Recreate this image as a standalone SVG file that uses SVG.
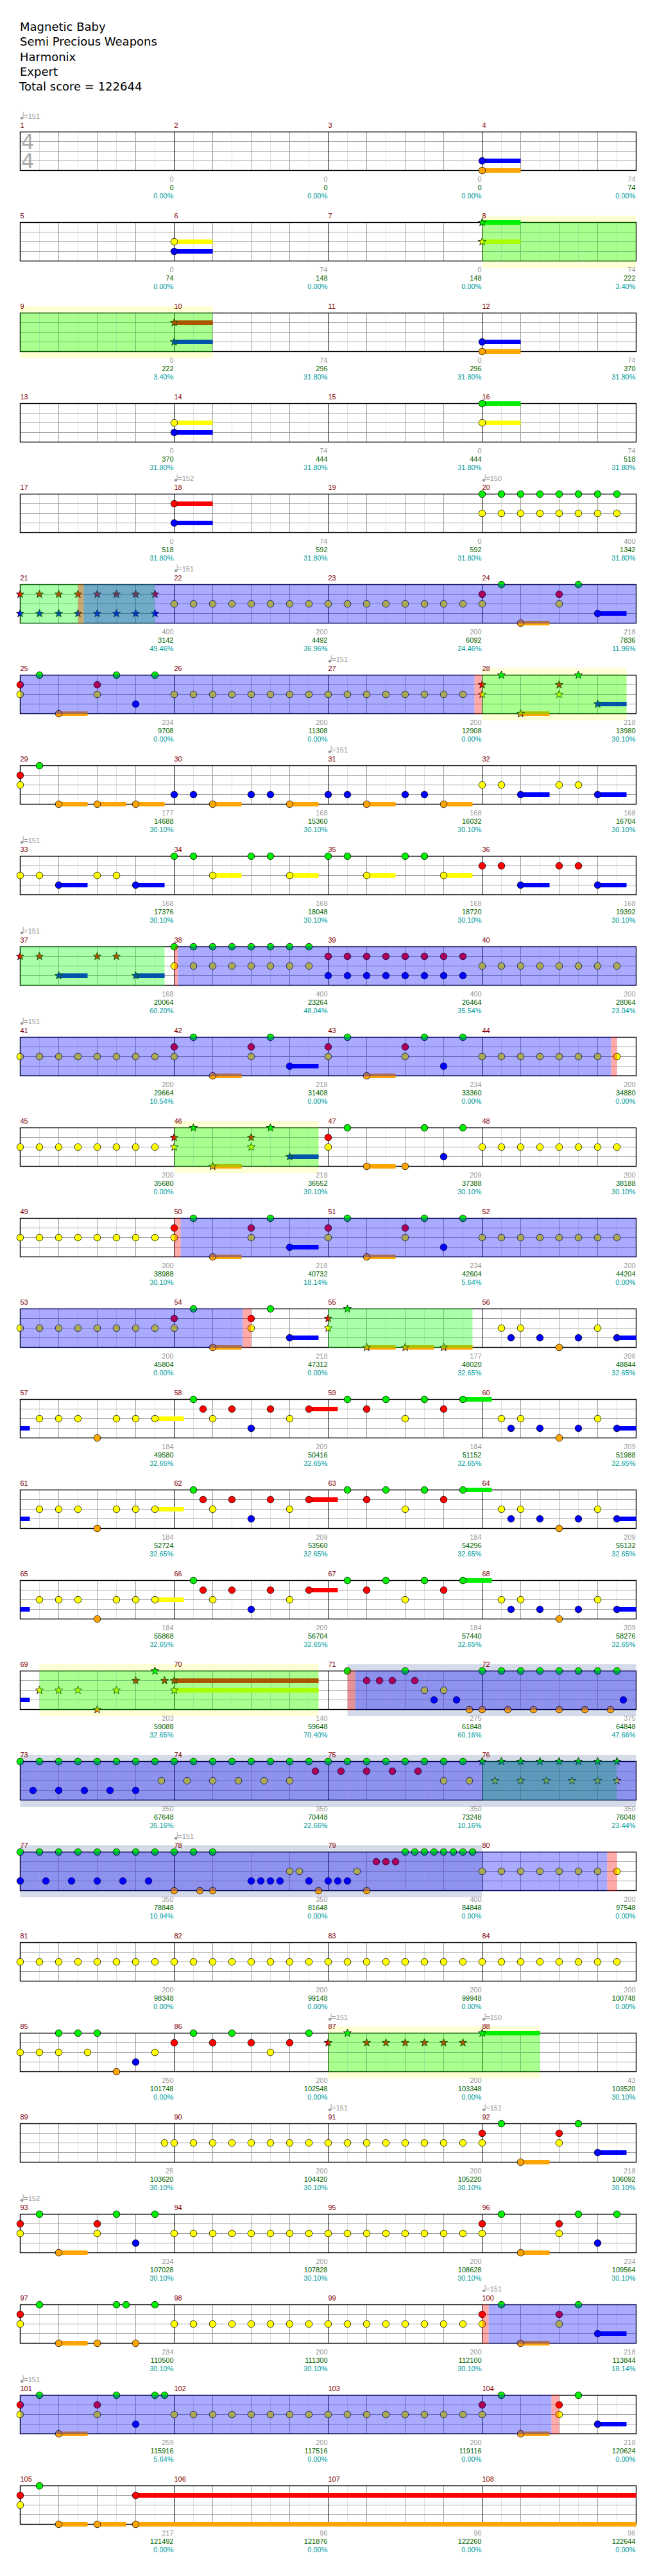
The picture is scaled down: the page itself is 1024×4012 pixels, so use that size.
<svg xmlns="http://www.w3.org/2000/svg" width="1024" height="4012" viewBox="0 0 1024 4012">
<style>
text{font-family:"Liberation Sans",Arial,sans-serif;font-size:11px}
.t{font-family:"DejaVu Sans",Verdana,sans-serif;font-size:18px;fill:#000}
.ts{font-family:"DejaVu Sans",Verdana,sans-serif;font-size:32px;fill:#aaa}
.mn{fill:#800000}
.s1{fill:#999;text-anchor:end}
.s2{fill:#006400;text-anchor:end}
.s3{fill:#009a9a;text-anchor:end}
.tp{fill:#999}
.g{fill:#00ee00;stroke:#000;stroke-width:.8}
.r{fill:#f00;stroke:#000;stroke-width:.8}
.y{fill:#ff0;stroke:#000;stroke-width:.8}
.b{fill:#00f;stroke:#000;stroke-width:.8}
.o{fill:#ffa500;stroke:#000;stroke-width:.8}
.tg{stroke:#00ee00;stroke-width:7}
.tr{stroke:#f00;stroke-width:7}
.ty{stroke:#ff0;stroke-width:7}
.tb{stroke:#00f;stroke-width:7}
.to{stroke:#ffa500;stroke-width:7}
.vg{fill:#0f0;fill-opacity:.333}
.vb{fill:#00f;fill-opacity:.333}
.vr{fill:#f00;fill-opacity:.333}
.by{fill:#ffffd5}
.bs{fill:#d5dbe8}
</style>
<defs>
<g id="grid">
<path d="M30 0V60M90 0V60M150 0V60M210 0V60M270 0V60M330 0V60M390 0V60M450 0V60M510 0V60M570 0V60M630 0V60M690 0V60M750 0V60M810 0V60M870 0V60M930 0V60" stroke="#e0e0e0"/>
<path d="M60 0V60M120 0V60M180 0V60M300 0V60M360 0V60M420 0V60M540 0V60M600 0V60M660 0V60M780 0V60M840 0V60M900 0V60M0 15H960M0 30H960M0 45H960" stroke="#a0a0a0"/>
<path d="M240 0V60M480 0V60M720 0V60" stroke="#000"/>
<rect x="0" y="0" width="960" height="60" fill="none" stroke="#000" stroke-width="1.4"/>
</g>
<circle id="G" cy="0" r="5.3" class="g"/>
<circle id="R" cy="15" r="5.3" class="r"/>
<circle id="Y" cy="30" r="5.3" class="y"/>
<circle id="B" cy="45" r="5.3" class="b"/>
<circle id="O" cy="60" r="5.3" class="o"/>
<path id="st" d="M0-6.5L1.59-2.18 6.18-2.01 2.57.83 3.82 5.26 0 2.7-3.82 5.26-2.57.83-6.18-2.01-1.59-2.18Z" stroke-width=".8"/>
<use id="sG" href="#st" class="g"/>
<use id="sR" href="#st" y="15" class="r"/>
<use id="sY" href="#st" y="30" class="y"/>
<use id="sB" href="#st" y="45" class="b"/>
<use id="sO" href="#st" y="60" class="o"/>
<g id="Y8"><use href="#Y"/><use href="#Y" x="30"/><use href="#Y" x="60"/><use href="#Y" x="90"/><use href="#Y" x="120"/><use href="#Y" x="150"/><use href="#Y" x="180"/><use href="#Y" x="210"/></g>
<g id="G8"><use href="#G"/><use href="#G" x="30"/><use href="#G" x="60"/><use href="#G" x="90"/><use href="#G" x="120"/><use href="#G" x="150"/><use href="#G" x="180"/><use href="#G" x="210"/></g>
<g id="R8"><use href="#R"/><use href="#R" x="30"/><use href="#R" x="60"/><use href="#R" x="90"/><use href="#R" x="120"/><use href="#R" x="150"/><use href="#R" x="180"/><use href="#R" x="210"/></g>
<g id="B8"><use href="#B"/><use href="#B" x="30"/><use href="#B" x="60"/><use href="#B" x="90"/><use href="#B" x="120"/><use href="#B" x="150"/><use href="#B" x="180"/><use href="#B" x="210"/></g>
<g id="sG8"><use href="#sG"/><use href="#sG" x="30"/><use href="#sG" x="60"/><use href="#sG" x="90"/><use href="#sG" x="120"/><use href="#sG" x="150"/><use href="#sG" x="180"/><use href="#sG" x="210"/></g>
<g id="tm" fill="#999"><ellipse cx="2.5" cy="-21.5" rx="2.4" ry="1.9"/><rect x="4.2" y="-31" width="0.9" height="9.5"/></g>
<g id="riff">
<path class="tb" d="M0 45H15"/><path class="ty" d="M210 30H255"/><path class="tr" d="M450 15H495"/><path class="tg" d="M690 0H735"/><path class="tb" d="M930 45H960"/>
<use href="#Y" x="30"/><use href="#Y" x="60"/><use href="#Y" x="90"/><use href="#O" x="120"/><use href="#Y" x="150"/><use href="#Y" x="180"/><use href="#Y" x="210"/>
<use href="#G" x="270"/><use href="#R" x="285"/><use href="#Y" x="300"/><use href="#R" x="330"/><use href="#B" x="360"/><use href="#R" x="390"/><use href="#Y" x="420"/><use href="#R" x="450"/>
<use href="#G" x="510"/><use href="#R" x="540"/><use href="#G" x="570"/><use href="#Y" x="600"/><use href="#G" x="630"/><use href="#R" x="660"/><use href="#G" x="690"/>
<use href="#Y" x="750"/><use href="#Y" x="780"/><use href="#B" x="765"/><use href="#B" x="810"/><use href="#O" x="840"/><use href="#B" x="870"/><use href="#Y" x="900"/><use href="#B" x="930"/>
</g>
</defs>
<rect width="1024" height="4012" fill="#fff"/>
<g id="title">
<text class="t" x="31" y="48">Magnetic Baby</text>
<text class="t" x="31" y="71">Semi Precious Weapons</text>
<text class="t" x="31" y="94.5">Harmonix</text>
<text class="t" x="31" y="117.5">Expert</text>
<text class="t" x="30" y="140.5">Total score = 122644</text>
</g>

<g id="row-1" transform="translate(31.5,205.5)">
<use href="#grid"/>
<text class="ts" x="1.5" y="26">4</text><text class="ts" x="1.5" y="56.5">4</text>
<path class="tb" d="M720 45H780"/><path class="to" d="M720 60H780"/>
<use href="#B" x="720"/><use href="#O" x="720"/>
<use href="#tm"/><text class="tp" x="5.8" y="-20.5">=151</text>
<text class="mn" x="0" y="-7">1</text><text class="mn" x="240" y="-7">2</text><text class="mn" x="480" y="-7">3</text><text class="mn" x="720" y="-7">4</text>
<text class="s1" x="239" y="77">0</text><text class="s1" x="479" y="77">0</text><text class="s1" x="719" y="77">0</text><text class="s1" x="959" y="77">74</text>
<text class="s2" x="239" y="90">0</text><text class="s2" x="479" y="90">0</text><text class="s2" x="719" y="90">0</text><text class="s2" x="959" y="90">74</text>
<text class="s3" x="239" y="103">0.00%</text><text class="s3" x="479" y="103">0.00%</text><text class="s3" x="719" y="103">0.00%</text><text class="s3" x="959" y="103">0.00%</text>
</g>

<g id="row-2" transform="translate(31.5,346.5)">
<rect class="by" x="720" y="-10.5" width="240" height="81"/>
<use href="#grid"/>
<path class="ty" d="M240 30H300"/><path class="tb" d="M240 45H300"/><path class="tg" d="M720 0H780"/><path class="ty" d="M720 30H780"/>
<use href="#Y" x="240"/><use href="#B" x="240"/><use href="#sG" x="720"/><use href="#sY" x="720"/>
<rect class="vg" x="720" y="-0.7" width="240" height="61.4"/>
<text class="mn" x="0" y="-7">5</text><text class="mn" x="240" y="-7">6</text><text class="mn" x="480" y="-7">7</text><text class="mn" x="720" y="-7">8</text>
<text class="s1" x="239" y="77">0</text><text class="s1" x="479" y="77">74</text><text class="s1" x="719" y="77">0</text><text class="s1" x="959" y="77">74</text>
<text class="s2" x="239" y="90">74</text><text class="s2" x="479" y="90">148</text><text class="s2" x="719" y="90">148</text><text class="s2" x="959" y="90">222</text>
<text class="s3" x="239" y="103">0.00%</text><text class="s3" x="479" y="103">0.00%</text><text class="s3" x="719" y="103">0.00%</text><text class="s3" x="959" y="103">3.40%</text>
</g>

<g id="row-3" transform="translate(31.5,487.5)">
<rect class="by" x="0" y="-10.5" width="300" height="81"/>
<use href="#grid"/>
<path class="tr" d="M240 15H300"/><path class="tb" d="M240 45H300"/><path class="tb" d="M720 45H780"/><path class="to" d="M720 60H780"/>
<use href="#sR" x="240"/><use href="#sB" x="240"/><use href="#B" x="720"/><use href="#O" x="720"/>
<rect class="vg" x="0" y="-0.7" width="300" height="61.4"/>
<text class="mn" x="0" y="-7">9</text><text class="mn" x="240" y="-7">10</text><text class="mn" x="480" y="-7">11</text><text class="mn" x="720" y="-7">12</text>
<text class="s1" x="239" y="77">0</text><text class="s1" x="479" y="77">74</text><text class="s1" x="719" y="77">0</text><text class="s1" x="959" y="77">74</text>
<text class="s2" x="239" y="90">222</text><text class="s2" x="479" y="90">296</text><text class="s2" x="719" y="90">296</text><text class="s2" x="959" y="90">370</text>
<text class="s3" x="239" y="103">3.40%</text><text class="s3" x="479" y="103">31.80%</text><text class="s3" x="719" y="103">31.80%</text><text class="s3" x="959" y="103">31.80%</text>
</g>

<g id="row-4" transform="translate(31.5,628.5)">
<use href="#grid"/>
<path class="ty" d="M240 30H300"/><path class="tb" d="M240 45H300"/><path class="tg" d="M720 0H780"/><path class="ty" d="M720 30H780"/>
<use href="#Y" x="240"/><use href="#B" x="240"/><use href="#G" x="720"/><use href="#Y" x="720"/>
<text class="mn" x="0" y="-7">13</text><text class="mn" x="240" y="-7">14</text><text class="mn" x="480" y="-7">15</text><text class="mn" x="720" y="-7">16</text>
<text class="s1" x="239" y="77">0</text><text class="s1" x="479" y="77">74</text><text class="s1" x="719" y="77">0</text><text class="s1" x="959" y="77">74</text>
<text class="s2" x="239" y="90">370</text><text class="s2" x="479" y="90">444</text><text class="s2" x="719" y="90">444</text><text class="s2" x="959" y="90">518</text>
<text class="s3" x="239" y="103">31.80%</text><text class="s3" x="479" y="103">31.80%</text><text class="s3" x="719" y="103">31.80%</text><text class="s3" x="959" y="103">31.80%</text>
</g>

<g id="row-5" transform="translate(31.5,769.5)">
<use href="#grid"/>
<path class="tr" d="M240 15H300"/><path class="tb" d="M240 45H300"/>
<use href="#R" x="240"/><use href="#B" x="240"/><use href="#G8" x="720"/><use href="#Y8" x="720"/>
<use href="#tm" x="240"/><text class="tp" x="245.8" y="-20.5">=152</text>
<use href="#tm" x="720"/><text class="tp" x="725.8" y="-20.5">=150</text>
<text class="mn" x="0" y="-7">17</text><text class="mn" x="240" y="-7">18</text><text class="mn" x="480" y="-7">19</text><text class="mn" x="720" y="-7">20</text>
<text class="s1" x="239" y="77">0</text><text class="s1" x="479" y="77">74</text><text class="s1" x="719" y="77">0</text><text class="s1" x="959" y="77">400</text>
<text class="s2" x="239" y="90">518</text><text class="s2" x="479" y="90">592</text><text class="s2" x="719" y="90">592</text><text class="s2" x="959" y="90">1342</text>
<text class="s3" x="239" y="103">31.80%</text><text class="s3" x="479" y="103">31.80%</text><text class="s3" x="719" y="103">31.80%</text><text class="s3" x="959" y="103">31.80%</text>
</g>

<g id="row-6" transform="translate(31.5,910.5)">
<use href="#grid"/>
<path class="to" d="M780 60H825"/><path class="tb" d="M900 45H945"/>
<use href="#sR"/><use href="#sR" x="30"/><use href="#sR" x="60"/><use href="#sR" x="90"/><use href="#sR" x="120"/><use href="#sR" x="150"/><use href="#sR" x="180"/><use href="#sR" x="210"/>
<use href="#sB"/><use href="#sB" x="30"/><use href="#sB" x="60"/><use href="#sB" x="90"/><use href="#sB" x="120"/><use href="#sB" x="150"/><use href="#sB" x="180"/><use href="#sB" x="210"/>
<use href="#Y8" x="240"/><use href="#Y8" x="480"/><use href="#Y" x="720"/><use href="#Y" x="840"/>
<use href="#R" x="720"/><use href="#R" x="840"/><use href="#G" x="750"/><use href="#G" x="870"/><use href="#O" x="780"/><use href="#B" x="900"/>
<rect class="vg" x="0" y="-0.7" width="210" height="61.4"/><rect class="vb" x="99" y="-0.7" width="861" height="61.4"/><rect class="vr" x="90" y="-0.7" width="9" height="61.4"/>
<use href="#tm" x="240"/><text class="tp" x="245.8" y="-20.5">=151</text>
<text class="mn" x="0" y="-7">21</text><text class="mn" x="240" y="-7">22</text><text class="mn" x="480" y="-7">23</text><text class="mn" x="720" y="-7">24</text>
<text class="s1" x="239" y="77">400</text><text class="s1" x="479" y="77">200</text><text class="s1" x="719" y="77">200</text><text class="s1" x="959" y="77">218</text>
<text class="s2" x="239" y="90">3142</text><text class="s2" x="479" y="90">4492</text><text class="s2" x="719" y="90">6092</text><text class="s2" x="959" y="90">7836</text>
<text class="s3" x="239" y="103">49.46%</text><text class="s3" x="479" y="103">36.96%</text><text class="s3" x="719" y="103">24.46%</text><text class="s3" x="959" y="103">11.96%</text>
</g>

<g id="row-7" transform="translate(31.5,1051.5)">
<rect class="by" x="720" y="-10.5" width="225" height="81"/>
<use href="#grid"/>
<path class="to" d="M60 60H105"/><path class="to" d="M780 60H825"/><path class="tb" d="M900 45H945"/>
<use href="#R"/><use href="#Y"/><use href="#G" x="30"/><use href="#O" x="60"/><use href="#R" x="120"/><use href="#Y" x="120"/><use href="#G" x="150"/><use href="#B" x="180"/><use href="#G" x="210"/>
<use href="#Y8" x="240"/><use href="#Y8" x="480"/>
<use href="#sR" x="720"/><use href="#sY" x="720"/><use href="#sG" x="750"/><use href="#sO" x="780"/><use href="#sR" x="840"/><use href="#sY" x="840"/><use href="#sG" x="870"/><use href="#sB" x="900"/>
<rect class="vg" x="720" y="-0.7" width="225" height="61.4"/><rect class="vb" x="0" y="-0.7" width="708" height="61.4"/><rect class="vr" x="708" y="-0.7" width="12" height="61.4"/>
<use href="#tm" x="480"/><text class="tp" x="485.8" y="-20.5">=151</text>
<text class="mn" x="0" y="-7">25</text><text class="mn" x="240" y="-7">26</text><text class="mn" x="480" y="-7">27</text><text class="mn" x="720" y="-7">28</text>
<text class="s1" x="239" y="77">234</text><text class="s1" x="479" y="77">200</text><text class="s1" x="719" y="77">200</text><text class="s1" x="959" y="77">218</text>
<text class="s2" x="239" y="90">9708</text><text class="s2" x="479" y="90">11308</text><text class="s2" x="719" y="90">12908</text><text class="s2" x="959" y="90">13980</text>
<text class="s3" x="239" y="103">0.00%</text><text class="s3" x="479" y="103">0.00%</text><text class="s3" x="719" y="103">0.00%</text><text class="s3" x="959" y="103">30.10%</text>
</g>

<g id="row-8" transform="translate(31.5,1192.5)">
<use href="#grid"/>
<path class="to" d="M60 60H105M120 60H165M180 60H225M300 60H345M420 60H465M540 60H585M660 60H705"/><path class="tb" d="M780 45H825M900 45H945"/>
<use href="#R"/><use href="#Y"/><use href="#G" x="30"/><use href="#O" x="60"/><use href="#O" x="120"/><use href="#O" x="180"/>
<use href="#B" x="240"/><use href="#B" x="270"/><use href="#O" x="300"/><use href="#B" x="360"/><use href="#B" x="390"/><use href="#O" x="420"/>
<use href="#B" x="480"/><use href="#B" x="510"/><use href="#O" x="540"/><use href="#B" x="600"/><use href="#B" x="630"/><use href="#O" x="660"/>
<use href="#Y" x="720"/><use href="#Y" x="750"/><use href="#B" x="780"/><use href="#Y" x="840"/><use href="#Y" x="870"/><use href="#B" x="900"/>
<use href="#tm" x="480"/><text class="tp" x="485.8" y="-20.5">=151</text>
<text class="mn" x="0" y="-7">29</text><text class="mn" x="240" y="-7">30</text><text class="mn" x="480" y="-7">31</text><text class="mn" x="720" y="-7">32</text>
<text class="s1" x="239" y="77">177</text><text class="s1" x="479" y="77">168</text><text class="s1" x="719" y="77">168</text><text class="s1" x="959" y="77">168</text>
<text class="s2" x="239" y="90">14688</text><text class="s2" x="479" y="90">15360</text><text class="s2" x="719" y="90">16032</text><text class="s2" x="959" y="90">16704</text>
<text class="s3" x="239" y="103">30.10%</text><text class="s3" x="479" y="103">30.10%</text><text class="s3" x="719" y="103">30.10%</text><text class="s3" x="959" y="103">30.10%</text>
</g>

<g id="row-9" transform="translate(31.5,1333.5)">
<use href="#grid"/>
<path class="tb" d="M60 45H105M180 45H225M780 45H825M900 45H945"/><path class="ty" d="M300 30H345M420 30H465M540 30H585M660 30H705"/>
<use href="#Y"/><use href="#Y" x="30"/><use href="#B" x="60"/><use href="#Y" x="120"/><use href="#Y" x="150"/><use href="#B" x="180"/>
<use href="#G" x="240"/><use href="#G" x="270"/><use href="#Y" x="300"/><use href="#G" x="360"/><use href="#G" x="390"/><use href="#Y" x="420"/>
<use href="#G" x="480"/><use href="#G" x="510"/><use href="#Y" x="540"/><use href="#G" x="600"/><use href="#G" x="630"/><use href="#Y" x="660"/>
<use href="#R" x="720"/><use href="#R" x="750"/><use href="#B" x="780"/><use href="#R" x="840"/><use href="#R" x="870"/><use href="#B" x="900"/>
<use href="#tm"/><text class="tp" x="5.8" y="-20.5">=151</text>
<text class="mn" x="0" y="-7">33</text><text class="mn" x="240" y="-7">34</text><text class="mn" x="480" y="-7">35</text><text class="mn" x="720" y="-7">36</text>
<text class="s1" x="239" y="77">168</text><text class="s1" x="479" y="77">168</text><text class="s1" x="719" y="77">168</text><text class="s1" x="959" y="77">168</text>
<text class="s2" x="239" y="90">17376</text><text class="s2" x="479" y="90">18048</text><text class="s2" x="719" y="90">18720</text><text class="s2" x="959" y="90">19392</text>
<text class="s3" x="239" y="103">30.10%</text><text class="s3" x="479" y="103">30.10%</text><text class="s3" x="719" y="103">30.10%</text><text class="s3" x="959" y="103">30.10%</text>
</g>

<g id="row-10" transform="translate(31.5,1474.5)">
<use href="#grid"/>
<path class="tb" d="M60 45H105M180 45H225"/>
<use href="#sR"/><use href="#sR" x="30"/><use href="#sR" x="120"/><use href="#sR" x="150"/><use href="#sB" x="60"/><use href="#sB" x="180"/>
<use href="#G8" x="240"/><use href="#Y8" x="240"/><use href="#R8" x="480"/><use href="#B8" x="480"/><use href="#Y8" x="720"/>
<rect class="vg" x="0" y="-0.7" width="225" height="61.4"/><rect class="vb" x="246" y="-0.7" width="714" height="61.4"/><rect class="vr" x="240" y="-0.7" width="6" height="61.4"/>
<use href="#tm"/><text class="tp" x="5.8" y="-20.5">=151</text>
<text class="mn" x="0" y="-7">37</text><text class="mn" x="240" y="-7">38</text><text class="mn" x="480" y="-7">39</text><text class="mn" x="720" y="-7">40</text>
<text class="s1" x="239" y="77">168</text><text class="s1" x="479" y="77">400</text><text class="s1" x="719" y="77">400</text><text class="s1" x="959" y="77">200</text>
<text class="s2" x="239" y="90">20064</text><text class="s2" x="479" y="90">23264</text><text class="s2" x="719" y="90">26464</text><text class="s2" x="959" y="90">28064</text>
<text class="s3" x="239" y="103">60.20%</text><text class="s3" x="479" y="103">48.04%</text><text class="s3" x="719" y="103">35.54%</text><text class="s3" x="959" y="103">23.04%</text>
</g>

<g id="row-11" transform="translate(31.5,1615.5)">
<use href="#grid"/>
<path class="to" d="M300 60H345M540 60H585"/><path class="tb" d="M420 45H465"/>
<use href="#Y8"/><use href="#Y" x="240"/><use href="#R" x="240"/><use href="#G" x="270"/><use href="#O" x="300"/><use href="#R" x="360"/><use href="#Y" x="360"/><use href="#G" x="390"/><use href="#B" x="420"/>
<use href="#R" x="480"/><use href="#Y" x="480"/><use href="#G" x="510"/><use href="#O" x="540"/><use href="#R" x="600"/><use href="#Y" x="600"/><use href="#G" x="630"/><use href="#B" x="660"/><use href="#G" x="690"/>
<use href="#Y8" x="720"/>
<rect class="vb" x="0" y="-0.7" width="921" height="61.4"/><rect class="vr" x="921" y="-0.7" width="9" height="61.4"/>
<use href="#tm"/><text class="tp" x="5.8" y="-20.5">=151</text>
<text class="mn" x="0" y="-7">41</text><text class="mn" x="240" y="-7">42</text><text class="mn" x="480" y="-7">43</text><text class="mn" x="720" y="-7">44</text>
<text class="s1" x="239" y="77">200</text><text class="s1" x="479" y="77">218</text><text class="s1" x="719" y="77">234</text><text class="s1" x="959" y="77">200</text>
<text class="s2" x="239" y="90">29664</text><text class="s2" x="479" y="90">31408</text><text class="s2" x="719" y="90">33360</text><text class="s2" x="959" y="90">34880</text>
<text class="s3" x="239" y="103">10.54%</text><text class="s3" x="479" y="103">0.00%</text><text class="s3" x="719" y="103">0.00%</text><text class="s3" x="959" y="103">0.00%</text>
</g>

<g id="row-12" transform="translate(31.5,1756.5)">
<rect class="by" x="240" y="-10.5" width="225" height="81"/>
<use href="#grid"/>
<path class="to" d="M300 60H345M540 60H585"/><path class="tb" d="M420 45H465"/>
<use href="#Y8"/>
<use href="#sR" x="240"/><use href="#sY" x="240"/><use href="#sG" x="270"/><use href="#sO" x="300"/><use href="#sR" x="360"/><use href="#sY" x="360"/><use href="#sG" x="390"/><use href="#sB" x="420"/>
<use href="#R" x="480"/><use href="#Y" x="480"/><use href="#G" x="510"/><use href="#O" x="540"/><use href="#O" x="600"/><use href="#G" x="630"/><use href="#B" x="660"/><use href="#G" x="690"/>
<use href="#Y8" x="720"/>
<rect class="vg" x="240" y="-0.7" width="225" height="61.4"/>
<text class="mn" x="0" y="-7">45</text><text class="mn" x="240" y="-7">46</text><text class="mn" x="480" y="-7">47</text><text class="mn" x="720" y="-7">48</text>
<text class="s1" x="239" y="77">200</text><text class="s1" x="479" y="77">218</text><text class="s1" x="719" y="77">209</text><text class="s1" x="959" y="77">200</text>
<text class="s2" x="239" y="90">35680</text><text class="s2" x="479" y="90">36552</text><text class="s2" x="719" y="90">37388</text><text class="s2" x="959" y="90">38188</text>
<text class="s3" x="239" y="103">0.00%</text><text class="s3" x="479" y="103">30.10%</text><text class="s3" x="719" y="103">30.10%</text><text class="s3" x="959" y="103">30.10%</text>
</g>

<g id="row-13" transform="translate(31.5,1897.5)">
<use href="#grid"/>
<path class="to" d="M300 60H345M540 60H585"/><path class="tb" d="M420 45H465"/>
<use href="#Y8"/><use href="#Y" x="240"/><use href="#R" x="240"/><use href="#G" x="270"/><use href="#O" x="300"/><use href="#R" x="360"/><use href="#Y" x="360"/><use href="#G" x="390"/><use href="#B" x="420"/>
<use href="#R" x="480"/><use href="#Y" x="480"/><use href="#G" x="510"/><use href="#O" x="540"/><use href="#R" x="600"/><use href="#Y" x="600"/><use href="#G" x="630"/><use href="#B" x="660"/><use href="#G" x="690"/>
<use href="#Y8" x="720"/>
<rect class="vb" x="250" y="-0.7" width="710" height="61.4"/><rect class="vr" x="240" y="-0.7" width="10" height="61.4"/>
<text class="mn" x="0" y="-7">49</text><text class="mn" x="240" y="-7">50</text><text class="mn" x="480" y="-7">51</text><text class="mn" x="720" y="-7">52</text>
<text class="s1" x="239" y="77">200</text><text class="s1" x="479" y="77">218</text><text class="s1" x="719" y="77">234</text><text class="s1" x="959" y="77">200</text>
<text class="s2" x="239" y="90">38988</text><text class="s2" x="479" y="90">40732</text><text class="s2" x="719" y="90">42604</text><text class="s2" x="959" y="90">44204</text>
<text class="s3" x="239" y="103">30.10%</text><text class="s3" x="479" y="103">18.14%</text><text class="s3" x="719" y="103">5.64%</text><text class="s3" x="959" y="103">0.00%</text>
</g>

<g id="row-14" transform="translate(31.5,2038.5)">
<use href="#grid"/>
<path class="to" d="M300 60H345M540 60H585M600 60H645M660 60H705"/><path class="tb" d="M420 45H465M930 45H960"/>
<use href="#Y8"/><use href="#Y" x="240"/><use href="#R" x="240"/><use href="#G" x="270"/><use href="#O" x="300"/><use href="#R" x="360"/><use href="#Y" x="360"/><use href="#G" x="390"/><use href="#B" x="420"/>
<use href="#sR" x="480"/><use href="#sY" x="480"/><use href="#sG" x="510"/><use href="#sO" x="540"/><use href="#sO" x="600"/><use href="#sO" x="660"/>
<use href="#Y" x="750"/><use href="#Y" x="780"/><use href="#B" x="765"/><use href="#B" x="810"/><use href="#O" x="840"/><use href="#B" x="870"/><use href="#Y" x="900"/><use href="#B" x="930"/>
<rect class="vg" x="480" y="-0.7" width="225" height="61.4"/><rect class="vb" x="0" y="-0.7" width="347" height="61.4"/><rect class="vr" x="347" y="-0.7" width="13" height="61.4"/>
<text class="mn" x="0" y="-7">53</text><text class="mn" x="240" y="-7">54</text><text class="mn" x="480" y="-7">55</text><text class="mn" x="720" y="-7">56</text>
<text class="s1" x="239" y="77">200</text><text class="s1" x="479" y="77">218</text><text class="s1" x="719" y="77">177</text><text class="s1" x="959" y="77">206</text>
<text class="s2" x="239" y="90">45804</text><text class="s2" x="479" y="90">47312</text><text class="s2" x="719" y="90">48020</text><text class="s2" x="959" y="90">48844</text>
<text class="s3" x="239" y="103">0.00%</text><text class="s3" x="479" y="103">0.00%</text><text class="s3" x="719" y="103">32.65%</text><text class="s3" x="959" y="103">32.65%</text>
</g>

<g id="row-15" transform="translate(31.5,2179.5)">
<use href="#grid"/>
<use href="#riff"/>
<text class="mn" x="0" y="-7">57</text><text class="mn" x="240" y="-7">58</text><text class="mn" x="480" y="-7">59</text><text class="mn" x="720" y="-7">60</text>
<text class="s1" x="239" y="77">184</text><text class="s1" x="479" y="77">209</text><text class="s1" x="719" y="77">184</text><text class="s1" x="959" y="77">209</text>
<text class="s2" x="239" y="90">49580</text><text class="s2" x="479" y="90">50416</text><text class="s2" x="719" y="90">51152</text><text class="s2" x="959" y="90">51988</text>
<text class="s3" x="239" y="103">32.65%</text><text class="s3" x="479" y="103">32.65%</text><text class="s3" x="719" y="103">32.65%</text><text class="s3" x="959" y="103">32.65%</text>
</g>

<g id="row-16" transform="translate(31.5,2320.5)">
<use href="#grid"/>
<use href="#riff"/>
<text class="mn" x="0" y="-7">61</text><text class="mn" x="240" y="-7">62</text><text class="mn" x="480" y="-7">63</text><text class="mn" x="720" y="-7">64</text>
<text class="s1" x="239" y="77">184</text><text class="s1" x="479" y="77">209</text><text class="s1" x="719" y="77">184</text><text class="s1" x="959" y="77">209</text>
<text class="s2" x="239" y="90">52724</text><text class="s2" x="479" y="90">53560</text><text class="s2" x="719" y="90">54296</text><text class="s2" x="959" y="90">55132</text>
<text class="s3" x="239" y="103">32.65%</text><text class="s3" x="479" y="103">32.65%</text><text class="s3" x="719" y="103">32.65%</text><text class="s3" x="959" y="103">32.65%</text>
</g>

<g id="row-17" transform="translate(31.5,2461.5)">
<use href="#grid"/>
<use href="#riff"/>
<text class="mn" x="0" y="-7">65</text><text class="mn" x="240" y="-7">66</text><text class="mn" x="480" y="-7">67</text><text class="mn" x="720" y="-7">68</text>
<text class="s1" x="239" y="77">184</text><text class="s1" x="479" y="77">209</text><text class="s1" x="719" y="77">184</text><text class="s1" x="959" y="77">209</text>
<text class="s2" x="239" y="90">55868</text><text class="s2" x="479" y="90">56704</text><text class="s2" x="719" y="90">57440</text><text class="s2" x="959" y="90">58276</text>
<text class="s3" x="239" y="103">32.65%</text><text class="s3" x="479" y="103">32.65%</text><text class="s3" x="719" y="103">32.65%</text><text class="s3" x="959" y="103">32.65%</text>
</g>

<g id="row-18" transform="translate(31.5,2602.5)">
<rect class="by" x="30" y="-10.5" width="435" height="81"/><rect class="bs" x="510" y="-10.5" width="450" height="81"/>
<use href="#grid"/>
<path class="tb" d="M0 45H15"/><path class="tr" d="M240 15H465"/><path class="ty" d="M240 30H465"/>
<use href="#sY" x="30"/><use href="#sY" x="60"/><use href="#sY" x="90"/><use href="#sO" x="120"/><use href="#sY" x="150"/><use href="#sR" x="180"/><use href="#sG" x="210"/><use href="#sR" x="225"/><use href="#sR" x="240"/><use href="#sY" x="240"/>
<use href="#G" x="510"/><use href="#R" x="540"/><use href="#R" x="560"/><use href="#R" x="580"/><use href="#R" x="615"/><use href="#G" x="600"/><use href="#Y" x="630"/><use href="#Y" x="660"/><use href="#B" x="645"/><use href="#B" x="680"/>
<use href="#O" x="700"/><use href="#O" x="720"/><use href="#O" x="760"/><use href="#O" x="800"/><use href="#O" x="840"/><use href="#O" x="880"/><use href="#O" x="920"/><use href="#G8" x="720"/><use href="#B" x="940"/>
<rect class="vg" x="30" y="-0.7" width="435" height="61.4"/><rect class="vb" x="522" y="-0.7" width="438" height="61.4"/><rect class="vr" x="510" y="-0.7" width="12" height="61.4"/>
<text class="mn" x="0" y="-7">69</text><text class="mn" x="240" y="-7">70</text><text class="mn" x="480" y="-7">71</text><text class="mn" x="720" y="-7">72</text>
<text class="s1" x="239" y="77">203</text><text class="s1" x="479" y="77">140</text><text class="s1" x="719" y="77">275</text><text class="s1" x="959" y="77">375</text>
<text class="s2" x="239" y="90">59088</text><text class="s2" x="479" y="90">59648</text><text class="s2" x="719" y="90">61848</text><text class="s2" x="959" y="90">64848</text>
<text class="s3" x="239" y="103">32.65%</text><text class="s3" x="479" y="103">70.40%</text><text class="s3" x="719" y="103">60.16%</text><text class="s3" x="959" y="103">47.66%</text>
</g>

<g id="row-19" transform="translate(31.5,2743.5)">
<rect class="bs" x="0" y="-10.5" width="960" height="81"/>
<use href="#grid"/>
<use href="#G8"/><use href="#G8" x="240"/><use href="#G8" x="480"/><use href="#sG8" x="720"/>
<use href="#B" x="20"/><use href="#B" x="60"/><use href="#B" x="100"/><use href="#B" x="140"/><use href="#B" x="180"/>
<use href="#Y" x="220"/><use href="#Y" x="260"/><use href="#Y" x="300"/><use href="#Y" x="340"/><use href="#Y" x="380"/><use href="#Y" x="420"/><use href="#Y" x="660"/><use href="#Y" x="700"/>
<use href="#R" x="460"/><use href="#R" x="500"/><use href="#R" x="540"/><use href="#R" x="580"/><use href="#R" x="620"/>
<use href="#sY" x="740"/><use href="#sY" x="780"/><use href="#sY" x="820"/><use href="#sY" x="860"/><use href="#sY" x="900"/><use href="#sY" x="930"/>
<rect class="vg" x="720" y="-0.7" width="210" height="61.4"/><rect class="vb" x="0" y="-0.7" width="960" height="61.4"/>
<text class="mn" x="0" y="-7">73</text><text class="mn" x="240" y="-7">74</text><text class="mn" x="480" y="-7">75</text><text class="mn" x="720" y="-7">76</text>
<text class="s1" x="239" y="77">350</text><text class="s1" x="479" y="77">350</text><text class="s1" x="719" y="77">350</text><text class="s1" x="959" y="77">350</text>
<text class="s2" x="239" y="90">67648</text><text class="s2" x="479" y="90">70448</text><text class="s2" x="719" y="90">73248</text><text class="s2" x="959" y="90">76048</text>
<text class="s3" x="239" y="103">35.16%</text><text class="s3" x="479" y="103">22.66%</text><text class="s3" x="719" y="103">10.16%</text><text class="s3" x="959" y="103">23.44%</text>
</g>

<g id="row-20" transform="translate(31.5,2884.5)">
<rect class="bs" x="0" y="-10.5" width="720" height="81"/>
<use href="#grid"/>
<use href="#G8"/><use href="#G" x="240"/><use href="#G" x="270"/><use href="#G" x="300"/>
<use href="#B" x="0"/><use href="#B" x="40"/><use href="#B" x="80"/><use href="#B" x="120"/><use href="#B" x="160"/><use href="#B" x="200"/>
<use href="#O" x="240"/><use href="#O" x="280"/><use href="#O" x="300"/>
<use href="#B" x="360"/><use href="#B" x="375"/><use href="#B" x="390"/><use href="#B" x="405"/><use href="#B" x="450"/><use href="#B" x="480"/><use href="#B" x="495"/><use href="#B" x="510"/>
<use href="#Y" x="420"/><use href="#Y" x="435"/><use href="#Y" x="525"/><use href="#O" x="465"/><use href="#O" x="540"/>
<use href="#R" x="555"/><use href="#R" x="570"/><use href="#R" x="585"/>
<use href="#G" x="600"/><use href="#G" x="615"/><use href="#G" x="630"/><use href="#G" x="645"/><use href="#G" x="660"/><use href="#G" x="675"/><use href="#G" x="690"/><use href="#G" x="705"/>
<use href="#Y8" x="720"/>
<rect class="vb" x="0" y="-0.7" width="915" height="61.4"/><rect class="vr" x="915" y="-0.7" width="15" height="61.4"/>
<use href="#tm" x="240"/><text class="tp" x="245.8" y="-20.5">=151</text>
<text class="mn" x="0" y="-7">77</text><text class="mn" x="240" y="-7">78</text><text class="mn" x="480" y="-7">79</text><text class="mn" x="720" y="-7">80</text>
<text class="s1" x="239" y="77">350</text><text class="s1" x="479" y="77">350</text><text class="s1" x="719" y="77">400</text><text class="s1" x="959" y="77">200</text>
<text class="s2" x="239" y="90">78848</text><text class="s2" x="479" y="90">81648</text><text class="s2" x="719" y="90">84848</text><text class="s2" x="959" y="90">97548</text>
<text class="s3" x="239" y="103">10.94%</text><text class="s3" x="479" y="103">0.00%</text><text class="s3" x="719" y="103">0.00%</text><text class="s3" x="959" y="103">0.00%</text>
</g>

<g id="row-21" transform="translate(31.5,3025.5)">
<use href="#grid"/>
<use href="#Y8"/><use href="#Y8" x="240"/><use href="#Y8" x="480"/><use href="#Y8" x="720"/>
<text class="mn" x="0" y="-7">81</text><text class="mn" x="240" y="-7">82</text><text class="mn" x="480" y="-7">83</text><text class="mn" x="720" y="-7">84</text>
<text class="s1" x="239" y="77">200</text><text class="s1" x="479" y="77">200</text><text class="s1" x="719" y="77">200</text><text class="s1" x="959" y="77">200</text>
<text class="s2" x="239" y="90">98348</text><text class="s2" x="479" y="90">99148</text><text class="s2" x="719" y="90">99948</text><text class="s2" x="959" y="90">100748</text>
<text class="s3" x="239" y="103">0.00%</text><text class="s3" x="479" y="103">0.00%</text><text class="s3" x="719" y="103">0.00%</text><text class="s3" x="959" y="103">0.00%</text>
</g>

<g id="row-22" transform="translate(31.5,3166.5)">
<rect class="by" x="480" y="-10.5" width="330" height="81"/>
<use href="#grid"/>
<path class="tg" d="M720 0H810"/>
<use href="#Y"/><use href="#Y" x="30"/><use href="#Y" x="60"/><use href="#Y" x="105"/><use href="#Y" x="210"/><use href="#Y" x="390"/>
<use href="#G" x="60"/><use href="#G" x="90"/><use href="#G" x="120"/><use href="#G" x="270"/><use href="#G" x="330"/><use href="#G" x="450"/>
<use href="#O" x="150"/><use href="#B" x="180"/><use href="#R" x="240"/><use href="#R" x="300"/><use href="#R" x="360"/><use href="#R" x="420"/>
<use href="#sR" x="480"/><use href="#sG" x="510"/><use href="#sR" x="540"/><use href="#sR" x="570"/><use href="#sR" x="600"/><use href="#sR" x="630"/><use href="#sR" x="660"/><use href="#sR" x="690"/><use href="#sG" x="720"/>
<rect class="vg" x="480" y="-0.7" width="330" height="61.4"/>
<use href="#tm" x="480"/><text class="tp" x="485.8" y="-20.5">=151</text>
<use href="#tm" x="720"/><text class="tp" x="725.8" y="-20.5">=150</text>
<text class="mn" x="0" y="-7">85</text><text class="mn" x="240" y="-7">86</text><text class="mn" x="480" y="-7">87</text><text class="mn" x="720" y="-7">88</text>
<text class="s1" x="239" y="77">250</text><text class="s1" x="479" y="77">200</text><text class="s1" x="719" y="77">200</text><text class="s1" x="959" y="77">43</text>
<text class="s2" x="239" y="90">101748</text><text class="s2" x="479" y="90">102548</text><text class="s2" x="719" y="90">103348</text><text class="s2" x="959" y="90">103520</text>
<text class="s3" x="239" y="103">0.00%</text><text class="s3" x="479" y="103">0.00%</text><text class="s3" x="719" y="103">0.00%</text><text class="s3" x="959" y="103">30.10%</text>
</g>

<g id="row-23" transform="translate(31.5,3307.5)">
<use href="#grid"/>
<path class="to" d="M780 60H825"/><path class="tb" d="M900 45H945"/>
<use href="#Y" x="225"/><use href="#Y8" x="240"/><use href="#Y8" x="480"/><use href="#Y" x="720"/>
<use href="#R" x="720"/><use href="#R" x="840"/><use href="#Y" x="840"/><use href="#G" x="750"/><use href="#G" x="870"/><use href="#O" x="780"/><use href="#B" x="900"/>
<use href="#tm" x="480"/><text class="tp" x="485.8" y="-20.5">=151</text>
<use href="#tm" x="720"/><text class="tp" x="725.8" y="-20.5">=151</text>
<text class="mn" x="0" y="-7">89</text><text class="mn" x="240" y="-7">90</text><text class="mn" x="480" y="-7">91</text><text class="mn" x="720" y="-7">92</text>
<text class="s1" x="239" y="77">25</text><text class="s1" x="479" y="77">200</text><text class="s1" x="719" y="77">200</text><text class="s1" x="959" y="77">218</text>
<text class="s2" x="239" y="90">103620</text><text class="s2" x="479" y="90">104420</text><text class="s2" x="719" y="90">105220</text><text class="s2" x="959" y="90">106092</text>
<text class="s3" x="239" y="103">30.10%</text><text class="s3" x="479" y="103">30.10%</text><text class="s3" x="719" y="103">30.10%</text><text class="s3" x="959" y="103">30.10%</text>
</g>

<g id="row-24" transform="translate(31.5,3448.5)">
<use href="#grid"/>
<path class="to" d="M60 60H105M780 60H825"/>
<use href="#R"/><use href="#Y"/><use href="#G" x="30"/><use href="#O" x="60"/><use href="#R" x="120"/><use href="#Y" x="120"/><use href="#G" x="150"/><use href="#B" x="180"/><use href="#G" x="210"/>
<use href="#Y8" x="240"/><use href="#Y8" x="480"/><use href="#Y" x="720"/>
<use href="#R" x="720"/><use href="#G" x="750"/><use href="#O" x="780"/><use href="#R" x="840"/><use href="#Y" x="840"/><use href="#G" x="870"/><use href="#B" x="900"/><use href="#G" x="930"/>
<use href="#tm"/><text class="tp" x="5.8" y="-20.5">=152</text>
<text class="mn" x="0" y="-7">93</text><text class="mn" x="240" y="-7">94</text><text class="mn" x="480" y="-7">95</text><text class="mn" x="720" y="-7">96</text>
<text class="s1" x="239" y="77">234</text><text class="s1" x="479" y="77">200</text><text class="s1" x="719" y="77">200</text><text class="s1" x="959" y="77">234</text>
<text class="s2" x="239" y="90">107028</text><text class="s2" x="479" y="90">107828</text><text class="s2" x="719" y="90">108628</text><text class="s2" x="959" y="90">109564</text>
<text class="s3" x="239" y="103">30.10%</text><text class="s3" x="479" y="103">30.10%</text><text class="s3" x="719" y="103">30.10%</text><text class="s3" x="959" y="103">30.10%</text>
</g>

<g id="row-25" transform="translate(31.5,3589.5)">
<use href="#grid"/>
<path class="to" d="M60 60H105M780 60H825"/><path class="tb" d="M900 45H945"/>
<use href="#R"/><use href="#Y"/><use href="#G" x="30"/><use href="#O" x="60"/><use href="#O" x="120"/><use href="#G" x="150"/><use href="#G" x="165"/><use href="#O" x="180"/><use href="#G" x="210"/>
<use href="#Y8" x="240"/><use href="#Y8" x="480"/><use href="#Y" x="720"/>
<use href="#R" x="720"/><use href="#G" x="750"/><use href="#O" x="780"/><use href="#R" x="840"/><use href="#Y" x="840"/><use href="#G" x="870"/><use href="#B" x="900"/>
<rect class="vb" x="730" y="-0.7" width="230" height="61.4"/><rect class="vr" x="720" y="-0.7" width="10" height="61.4"/>
<use href="#tm" x="720"/><text class="tp" x="725.8" y="-20.5">=151</text>
<text class="mn" x="0" y="-7">97</text><text class="mn" x="240" y="-7">98</text><text class="mn" x="480" y="-7">99</text><text class="mn" x="720" y="-7">100</text>
<text class="s1" x="239" y="77">234</text><text class="s1" x="479" y="77">200</text><text class="s1" x="719" y="77">200</text><text class="s1" x="959" y="77">218</text>
<text class="s2" x="239" y="90">110500</text><text class="s2" x="479" y="90">111300</text><text class="s2" x="719" y="90">112100</text><text class="s2" x="959" y="90">113844</text>
<text class="s3" x="239" y="103">30.10%</text><text class="s3" x="479" y="103">30.10%</text><text class="s3" x="719" y="103">30.10%</text><text class="s3" x="959" y="103">18.14%</text>
</g>

<g id="row-26" transform="translate(31.5,3730.5)">
<use href="#grid"/>
<path class="to" d="M60 60H105M780 60H825"/><path class="tb" d="M900 45H945"/>
<use href="#R"/><use href="#Y"/><use href="#G" x="30"/><use href="#O" x="60"/><use href="#R" x="120"/><use href="#Y" x="120"/><use href="#G" x="150"/><use href="#B" x="180"/><use href="#G" x="210"/><use href="#G" x="225"/>
<use href="#Y8" x="240"/><use href="#Y8" x="480"/><use href="#Y" x="720"/>
<use href="#R" x="720"/><use href="#G" x="750"/><use href="#O" x="780"/><use href="#R" x="840"/><use href="#Y" x="840"/><use href="#G" x="870"/><use href="#B" x="900"/>
<rect class="vb" x="0" y="-0.7" width="828" height="61.4"/><rect class="vr" x="828" y="-0.7" width="12" height="61.4"/>
<use href="#tm"/><text class="tp" x="5.8" y="-20.5">=151</text>
<text class="mn" x="0" y="-7">101</text><text class="mn" x="240" y="-7">102</text><text class="mn" x="480" y="-7">103</text><text class="mn" x="720" y="-7">104</text>
<text class="s1" x="239" y="77">259</text><text class="s1" x="479" y="77">200</text><text class="s1" x="719" y="77">200</text><text class="s1" x="959" y="77">218</text>
<text class="s2" x="239" y="90">115916</text><text class="s2" x="479" y="90">117516</text><text class="s2" x="719" y="90">119116</text><text class="s2" x="959" y="90">120624</text>
<text class="s3" x="239" y="103">5.64%</text><text class="s3" x="479" y="103">0.00%</text><text class="s3" x="719" y="103">0.00%</text><text class="s3" x="959" y="103">0.00%</text>
</g>

<g id="row-27" transform="translate(31.5,3871.5)">
<use href="#grid"/>
<path class="to" d="M60 60H105M120 60H165M180 60H960"/><path class="tr" d="M180 15H960"/>
<use href="#R"/><use href="#Y"/><use href="#G" x="30"/><use href="#O" x="60"/><use href="#O" x="120"/><use href="#R" x="180"/><use href="#O" x="180"/>
<text class="mn" x="0" y="-7">105</text><text class="mn" x="240" y="-7">106</text><text class="mn" x="480" y="-7">107</text><text class="mn" x="720" y="-7">108</text>
<text class="s1" x="239" y="77">217</text><text class="s1" x="479" y="77">96</text><text class="s1" x="719" y="77">96</text><text class="s1" x="959" y="77">96</text>
<text class="s2" x="239" y="90">121492</text><text class="s2" x="479" y="90">121876</text><text class="s2" x="719" y="90">122260</text><text class="s2" x="959" y="90">122644</text>
<text class="s3" x="239" y="103">0.00%</text><text class="s3" x="479" y="103">0.00%</text><text class="s3" x="719" y="103">0.00%</text><text class="s3" x="959" y="103">0.00%</text>
</g>
</svg>
